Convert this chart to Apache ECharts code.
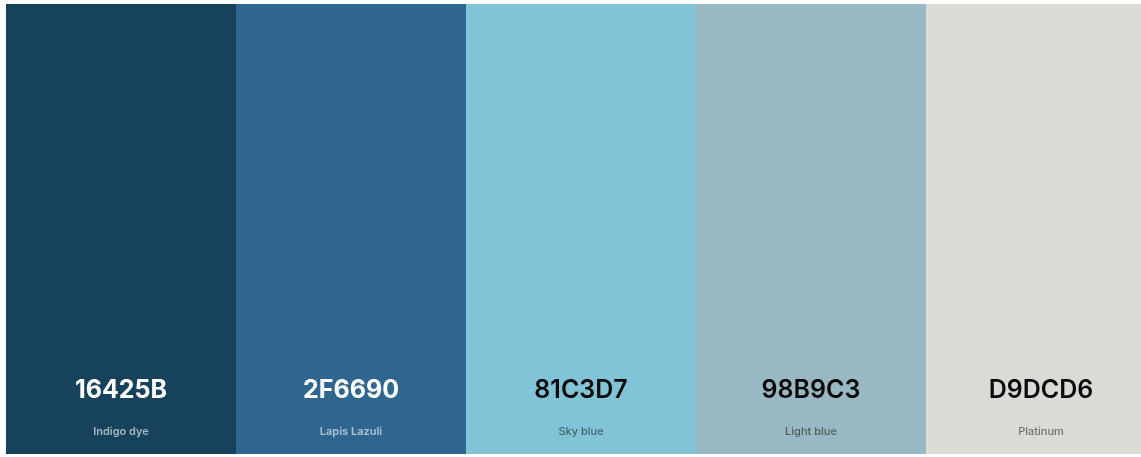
<!DOCTYPE html>
<html>
<head>
<meta charset="utf-8">
<script src="https://cdn.jsdelivr.net/npm/echarts@6/dist/echarts.min.js"></script>
<style>
html,body{margin:0;padding:0;background:#ffffff;}
#chart{width:1141px;height:457px;}
</style>
</head>
<body>
<div id="chart"></div>
<script>
const hexCodes = ['16425B', '2F6690', '81C3D7', '98B9C3', 'D9DCD6'];
const colorNames = ['Indigo dye', 'Lapis Lazuli', 'Sky blue', 'Light blue', 'Platinum'];
const swatchValues = [1, 1, 1, 1, 1];
const darkText = [false, false, true, true, true];

const chart = echarts.init(document.getElementById('chart'));
const data = swatchValues.map(function (v, i) {
  const dark = darkText[i];
  return {
    value: v,
    itemStyle: { color: '#' + hexCodes[i] },
    label: {
      rich: {
        h: { fontFamily: 'Inter', fontSize: 25, fontWeight: dark ? 600 : 700, color: dark ? '#0a0a0a' : '#ffffff', lineHeight: 63, align: 'center' },
        n: { fontFamily: 'Inter', fontSize: 11, fontWeight: dark ? 500 : 600, color: dark ? 'rgba(0,0,0,0.5)' : 'rgba(255,255,255,0.6)', lineHeight: 20, align: 'center' }
      }
    }
  };
});

chart.setOption({
  animation: false,
  backgroundColor: '#ffffff',
  grid: { left: 6, top: 4, width: 1150, height: 450, outerBoundsMode: 'none', containLabel: false },
  xAxis: { type: 'category', data: hexCodes, show: false, boundaryGap: true },
  yAxis: { type: 'value', min: 0, max: 1, show: false },
  series: [{
    type: 'bar',
    data: data,
    barWidth: '100%',
    barCategoryGap: 0,
    label: {
      show: true,
      position: 'insideBottom',
      distance: 12,
      formatter: function (p) {
        return '{h|' + hexCodes[p.dataIndex] + '}\n{n|' + colorNames[p.dataIndex] + '}';
      }
    }
  }]
});
</script>
</body>
</html>
